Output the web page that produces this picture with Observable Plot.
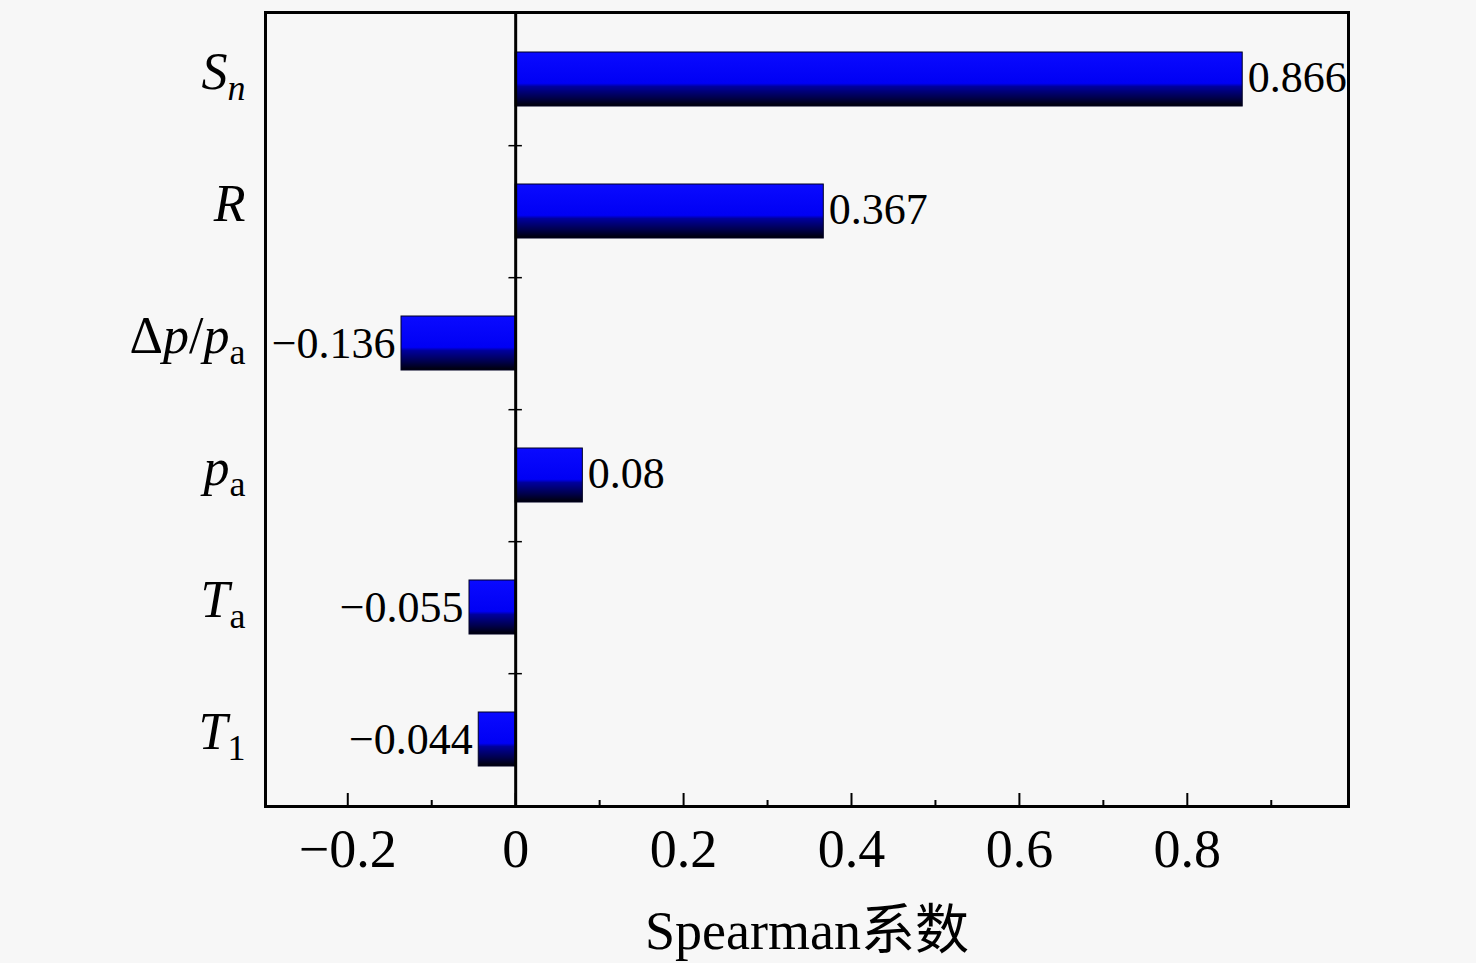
<!DOCTYPE html>
<html>
<head>
<meta charset="utf-8">
<script src="https://cdn.jsdelivr.net/npm/d3@7"></script>
<script src="https://cdn.jsdelivr.net/npm/@observablehq/plot@0.6"></script>
<style>
  html, body { margin: 0; padding: 0; background: #f7f7f7; }
  #chart svg { display: block; }
</style>
</head>
<body>
<div id="chart"></div>
<script>
// ---- data ----
const categories = ["Sn", "R", "Δp/pa", "pa", "Ta", "T1"];
const values = [0.866, 0.367, -0.136, 0.08, -0.055, -0.044];
// rich label parts: [text, style]  i = italic, n = normal, s = subscript, is = italic subscript
const labelParts = [
  [["S", "i"], ["n", "is"]],
  [["R", "i"]],
  [["Δ", "n"], ["p", "i"], ["/", "n"], ["p", "i"], ["a", "s"]],
  [["p", "i"], ["a", "s"]],
  [["T", "i"], ["a", "s"]],
  [["T", "i"], ["1", "s"]]
];
const majorTicks = [-0.2, 0, 0.2, 0.4, 0.6, 0.8];
const minorTicks = [-0.1, 0.1, 0.3, 0.5, 0.7, 0.9];
const xDomain = [-0.298, 0.992];
const xTitle = "Spearman系数";

const data = categories.map((name, i) => ({name, value: values[i]}));

const W = 1476, H = 963;
const mTop = 12, mBottom = 157, mLeft = 265, mRight = 128;
const innerH = H - mTop - mBottom;
const step = innerH / categories.length;
const fmt = d3.format("");

const chart = Plot.plot({
  width: W,
  height: H,
  marginTop: mTop,
  marginBottom: mBottom,
  marginLeft: mLeft,
  marginRight: mRight,
  style: {
    fontFamily: "'Liberation Serif', 'Times New Roman', 'Noto Sans CJK SC', serif",
    fontSize: "52px",
    background: "#f7f7f7",
    color: "black"
  },
  x: {domain: xDomain},
  y: {type: "band", domain: categories, padding: 0},
  marks: [
    Plot.barX(data, {
      x: "value", y: "name",
      fill: "url(#barGrad)", stroke: "#000022", strokeWidth: 1,
      insetTop: 39, insetBottom: 39
    }),
    Plot.ruleX([0], {stroke: "black", strokeWidth: 3}),
    // minor ticks on the zero line between categories
    Plot.ruleY(categories.slice(0, -1), {
      y: d => d, x1: -0.008, x2: 0.008, dy: step / 2, stroke: "black", strokeWidth: 1.5
    }),
    // inward ticks on bottom frame
    Plot.tickX(majorTicks, {x: d => d, insetTop: innerH - 13, stroke: "black", strokeWidth: 2}),
    Plot.tickX(minorTicks, {x: d => d, insetTop: innerH - 6, stroke: "black", strokeWidth: 2}),
    Plot.axisX({
      ticks: majorTicks, tickSize: 0, tickPadding: 22, fontSize: 54,
      tickFormat: d => fmt(d), label: null
    }),
    Plot.axisY({tickSize: 0, tickPadding: 20, fontSize: 52, label: null}),
    Plot.text(data.filter(d => d.value >= 0), {
      x: "value", y: "name", text: d => fmt(d.value),
      textAnchor: "start", dx: 5, dy: -2, fontSize: 44, fill: "black"
    }),
    Plot.text(data.filter(d => d.value < 0), {
      x: "value", y: "name", text: d => fmt(d.value),
      textAnchor: "end", dx: -6, fontSize: 44, fill: "black"
    }),
    Plot.text([xTitle], {
      frameAnchor: "bottom", dy: 142, fontSize: 54, fill: "black", text: d => d
    }),
    Plot.frame({stroke: "black", strokeWidth: 3})
  ]
});

// gradient for bars
const svg = d3.select(chart);
const defs = svg.insert("defs", ":first-child");
const grad = defs.append("linearGradient")
  .attr("id", "barGrad").attr("x1", 0).attr("y1", 0).attr("x2", 0).attr("y2", 1);
[[0, "#0a0aff"], [0.58, "#0000f4"], [0.64, "#00009c"], [0.85, "#00004a"], [1, "#000008"]]
  .forEach(([o, c]) => grad.append("stop").attr("offset", o).attr("stop-color", c));

// rich y tick labels
svg.selectAll('g[aria-label="y-axis tick label"] text').each(function() {
  const t = d3.select(this);
  const idx = categories.indexOf(t.text());
  if (idx < 0) return;
  t.text("").attr("dy", "-0.13em");
  labelParts[idx].forEach(([s, st]) => {
    const ts = t.append("tspan").text(s);
    if (st === "i" || st === "is") ts.attr("font-style", "italic");
    else ts.attr("font-style", "normal");
    if (st === "s" || st === "is") ts.attr("font-size", 36).attr("dy", 11);
  });
});

document.getElementById("chart").appendChild(chart);
</script>
</body>
</html>
